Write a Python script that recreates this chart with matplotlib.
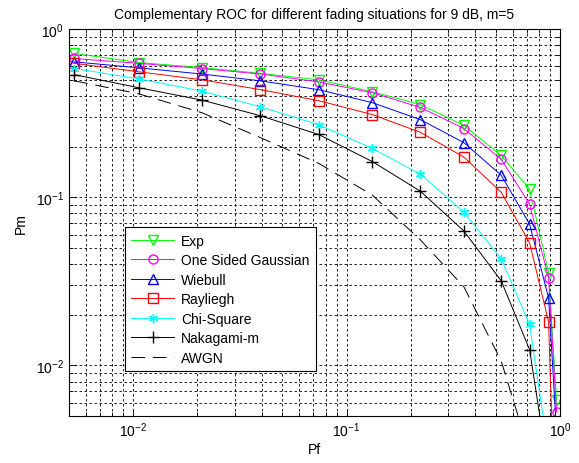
import matplotlib
matplotlib.use("Agg")
import matplotlib.pyplot as plt
from matplotlib.ticker import LogLocator

pf = [0.0053, 0.0106, 0.021, 0.0395, 0.074, 0.132, 0.222, 0.355, 0.531, 0.721, 0.885, 0.965]

pm_exp = [0.716, 0.632, 0.590, 0.545, 0.499, 0.424, 0.355, 0.267, 0.177, 0.1115, 0.0355, 0.0062]
pm_osg = [0.668, 0.625, 0.582, 0.540, 0.485, 0.418, 0.342, 0.256, 0.168, 0.0909, 0.0332, 0.00527]
pm_wiebull = [0.638, 0.588, 0.540, 0.492, 0.436, 0.365, 0.289, 0.211, 0.135, 0.0692, 0.0252, 0.004]
pm_rayliegh = [0.625, 0.557, 0.499, 0.436, 0.375, 0.310, 0.243, 0.173, 0.107, 0.0535, 0.0182, 0.0006]
pm_chi = [0.582, 0.506, 0.427, 0.345, 0.270, 0.195, 0.137, 0.0815, 0.0430, 0.0175, 0.003, 0.0003]
pm_naka = [0.535, 0.448, 0.378, 0.305, 0.236, 0.163, 0.1085, 0.0629, 0.0318, 0.0124, 0.0023, 0.0002]
pm_awgn = [0.492, 0.412, 0.318, 0.226, 0.159, 0.103, 0.0557, 0.0293, 0.0106, 0.0030, 0.0003, 0.00001]

plt.rcParams['font.family'] = ['Liberation Sans', 'DejaVu Sans']
plt.rcParams['font.size'] = 10

fig = plt.figure(figsize=(5.79, 4.64), dpi=100)
ax = fig.add_axes([0.119, 0.1013, 0.848, 0.834])

ms = 6.5
lw = 0.7
ax.loglog(pf, pm_exp, color='#00ff00', marker='v', ms=ms, mfc='none', lw=lw, label='Exp')
ax.loglog(pf, pm_osg, color='#ff00ff', marker='o', ms=ms, mfc='none', lw=lw, label='One Sided Gaussian')
ax.loglog(pf, pm_wiebull, color='#0000ff', marker='^', ms=ms, mfc='none', lw=lw, label='Wiebull')
ax.loglog(pf, pm_rayliegh, color='#ff0000', marker='s', ms=ms, mfc='none', lw=lw, label='Rayliegh')
ax.loglog(pf, pm_chi, color='#00ffff', marker=(6, 2, 0), ms=ms, lw=lw, label='Chi-Square')
ax.loglog(pf, pm_naka, color='black', marker='+', ms=ms + 2, lw=lw, label='Nakagami-m')
ax.loglog(pf, pm_awgn, color='black', ls='--', dashes=(14, 8), lw=lw, label='AWGN')

ax.set_xlim(0.005, 1)
ax.set_ylim(0.005, 1)
ax.xaxis.set_major_locator(LogLocator(base=10, numticks=10))
ax.yaxis.set_major_locator(LogLocator(base=10, numticks=10))
ax.xaxis.set_minor_locator(LogLocator(base=10, subs=range(2, 10), numticks=50))
ax.yaxis.set_minor_locator(LogLocator(base=10, subs=range(2, 10), numticks=50))

ax.grid(True, which='both', color='black', ls=(0, (3, 3)), lw=0.6)
ax.tick_params(which='both', direction='in', top=True, right=True, width=0.6)
ax.tick_params(which='major', length=5)
ax.tick_params(which='minor', length=3)
for s in ax.spines.values():
    s.set_linewidth(0.8)

ax.set_title('Complementary ROC for different fading situations for 9 dB, m=5', fontsize=10, pad=8)
ax.set_xlabel('Pf', labelpad=2)
ax.set_ylabel('Pm', labelpad=6)

leg = ax.legend(loc='lower left', bbox_to_anchor=(0.114, 0.116), borderaxespad=0,
                fancybox=False, framealpha=1, edgecolor='black', handlelength=3.1,
                labelspacing=0.4, borderpad=0.45, handletextpad=0.5)
leg.get_frame().set_linewidth(0.8)

fig.savefig('out.png', dpi=100)
